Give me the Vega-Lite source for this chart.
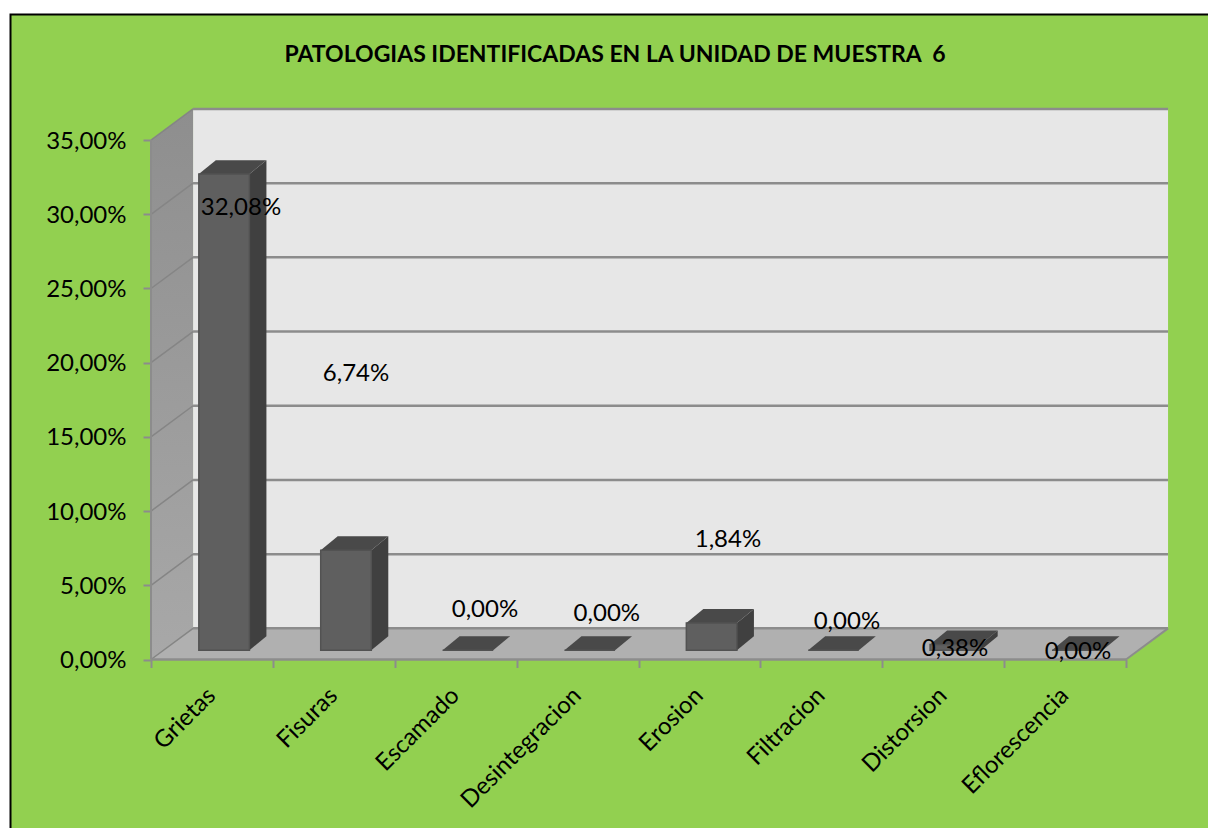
{
"$schema":"https://vega.github.io/schema/vega-lite/v6.json",
"width":1208,"height":828,"padding":0,"autosize":{"type":"none"},"background":"white",
"config":{"view":{"stroke":null},"font":"Lato"},
"title":{"text":"PATOLOGIAS IDENTIFICADAS EN LA UNIDAD DE MUESTRA \u00a06","anchor":"middle","frame":"group","dx":11,"offset":0,"dy":67,"font":"Lato","fontSize":23,"fontWeight":"bold","color":"#000000"},
"datasets":{
"bars":[
{"orden":1,"categoria":"Grietas","valor":32.08,"etiqueta":"32,08%"},
{"orden":2,"categoria":"Fisuras","valor":6.74,"etiqueta":"6,74%"},
{"orden":3,"categoria":"Escamado","valor":0,"etiqueta":"0,00%"},
{"orden":4,"categoria":"Desintegracion","valor":0,"etiqueta":"0,00%"},
{"orden":5,"categoria":"Erosion","valor":1.84,"etiqueta":"1,84%"},
{"orden":6,"categoria":"Filtracion","valor":0,"etiqueta":"0,00%"},
{"orden":7,"categoria":"Distorsion","valor":0.38,"etiqueta":"0,38%"},
{"orden":8,"categoria":"Eflorescencia","valor":0,"etiqueta":"0,00%"}
],
"marcas":[{"v":0},{"v":5},{"v":10},{"v":15},{"v":20},{"v":25},{"v":30},{"v":35}],
"uno":[{"u":1}]
},
"encoding":{
"x":{"field":"x","type":"quantitative","scale":{"domain":[-1.239,8.6728],"nice":false,"zero":false},
"axis":{"values":[0,1,2,3,4,5,6,7,8],"title":null,"labels":false,"domain":false,"grid":false,"offset":-168.5,"tickColor":"#8C8C8C","tickWidth":2,"tickSize":8,"zindex":1}},
"y":{"field":"y","type":"quantitative","scale":{"domain":[-11.354,44.44],"nice":false,"zero":false},
"axis":{"values":[0,5,10,15,20,25,30,35],"title":null,"labelExpr":"replace(format(datum.value,'.2f'),'.',',')+'%'","domain":false,"grid":false,"offset":-151,"tickColor":"#8C8C8C","tickWidth":2,"tickSize":8,"labelFont":"Lato","labelFontSize":24,"labelColor":"#000000","labelPadding":17,"labelOffset":1,"zindex":1}}
},
"layer":[
{"data":{"name":"uno"},"transform":[{"calculate":"-1.1528","as":"x"},{"calculate":"8.8","as":"x2"},{"calculate":"43.46","as":"y"},{"calculate":"-11.5","as":"y2"}],
"mark":{"type":"rect","fill":"#92D050","stroke":"#000000","strokeWidth":2},
"encoding":{"x2":{"field":"x2"},"y2":{"field":"y2"}}},
{"data":{"name":"uno"},"transform":[{"calculate":"0.345","as":"x"},{"calculate":"8.345","as":"x2"},{"calculate":"2.1","as":"y"},{"calculate":"37.1","as":"y2"}],
"mark":{"type":"rect","fill":"#E7E7E7"},
"encoding":{"x2":{"field":"x2"},"y2":{"field":"y2"}}},
{"data":{"name":"uno"},"transform":[{"calculate":"0","as":"t0"},{"calculate":"1","as":"t1"},{"fold":["t0","t1"],"as":["k","t"]},{"calculate":"datum.t*0.345","as":"x"},{"calculate":"datum.t*2.1","as":"y"},{"calculate":"35+datum.t*2.1","as":"y2"}],
"mark":{"type":"area","fill":{"x1":0,"y1":1,"x2":0,"y2":0,"gradient":"linear","stops":[{"offset":0,"color":"#A8A8A8"},{"offset":1,"color":"#8E8E8E"}]}},
"encoding":{"y2":{"field":"y2"}}},
{"data":{"name":"uno"},"transform":[{"calculate":"0","as":"t0"},{"calculate":"1","as":"t1"},{"fold":["t0","t1"],"as":["k","t"]},{"calculate":"datum.t*0.345","as":"x"},{"calculate":"8+datum.t*0.345","as":"x2"},{"calculate":"datum.t*2.1","as":"y"}],
"mark":{"type":"area","orient":"horizontal","fill":"#B0B0B0"},
"encoding":{"x2":{"field":"x2"}}},
{"data":{"name":"marcas"},"transform":[{"calculate":"0.345","as":"x"},{"calculate":"8.345","as":"x2"},{"calculate":"datum.v+2.1","as":"y"}],
"mark":{"type":"rule","stroke":"#8C8C8C","strokeWidth":2.5},
"encoding":{"x2":{"field":"x2"}}},
{"data":{"name":"marcas"},"transform":[{"calculate":"0","as":"t0"},{"calculate":"1","as":"t1"},{"fold":["t0","t1"],"as":["k","t"]},{"calculate":"datum.t*0.345","as":"x"},{"calculate":"datum.v+datum.t*2.1","as":"y"}],
"mark":{"type":"line","stroke":"#858585","strokeWidth":1.5},
"encoding":{"detail":{"field":"v"}}},
{"data":{"name":"uno"},"transform":[{"calculate":"0","as":"t0"},{"calculate":"1","as":"t1"},{"fold":["t0","t1"],"as":["k","t"]},{"calculate":"8+datum.t*0.345","as":"x"},{"calculate":"datum.t*2.1","as":"y"}],
"mark":{"type":"line","stroke":"#8C8C8C","strokeWidth":2},"encoding":{}},
{"data":{"name":"uno"},"transform":[{"calculate":"0","as":"x"},{"calculate":"8","as":"x2"},{"calculate":"0","as":"y"}],
"mark":{"type":"rule","stroke":"#8C8C8C","strokeWidth":2.5},
"encoding":{"x2":{"field":"x2"}}},
{"data":{"name":"uno"},"transform":[{"calculate":"0","as":"x"},{"calculate":"0","as":"y"},{"calculate":"35","as":"y2"}],
"mark":{"type":"rule","stroke":"#8C8C8C","strokeWidth":2},
"encoding":{"y2":{"field":"y2"}}},
{"data":{"name":"bars"},"transform":[{"calculate":"0","as":"t0"},{"calculate":"1","as":"t1"},{"fold":["t0","t1"],"as":["k","t"]},{"calculate":"datum.orden-0.4+0.2075+datum.t*0.1395","as":"x"},{"calculate":"0.627+datum.t*0.943","as":"y"},{"calculate":"0.627+datum.valor+datum.t*0.943","as":"y2"}],
"mark":{"type":"area","fill":"#404040"},
"encoding":{"y2":{"field":"y2"},"detail":{"field":"categoria"}}},
{"data":{"name":"bars"},"transform":[{"calculate":"0","as":"t0"},{"calculate":"1","as":"t1"},{"fold":["t0","t1"],"as":["k","t"]},{"calculate":"datum.orden-0.4-0.2075+datum.t*0.1395","as":"x"},{"calculate":"datum.orden-0.4+0.2075+datum.t*0.1395","as":"x2"},{"calculate":"0.627+datum.valor+datum.t*0.943","as":"y"}],
"mark":{"type":"area","orient":"horizontal","fill":"#494949"},
"encoding":{"x2":{"field":"x2"},"detail":{"field":"categoria"}}},
{"data":{"name":"bars"},"transform":[{"calculate":"datum.orden-0.4-0.2075","as":"x"},{"calculate":"datum.orden-0.4+0.2075","as":"x2"},{"calculate":"0.627","as":"y"},{"calculate":"0.627+datum.valor","as":"y2"}],
"mark":{"type":"rect","fill":"#5F5F5F","stroke":"#525252","strokeWidth":1.5},
"encoding":{"x2":{"field":"x2"},"y2":{"field":"y2"}}},
{"data":{"name":"bars"},"transform":[
{"calculate":"{'Grietas':0.738,'Fisuras':1.682,'Escamado':2.74,'Desintegracion':3.74,'Erosion':4.734,'Filtracion':5.71,'Distorsion':6.597,'Eflorescencia':7.606}[datum.categoria]","as":"x"},
{"calculate":"{'Grietas':30.45,'Fisuras':19.25,'Escamado':3.35,'Desintegracion':3.08,'Erosion':8.07,'Filtracion':2.55,'Distorsion':0.72,'Eflorescencia':0.52}[datum.categoria]","as":"y"}],
"mark":{"type":"text","font":"Lato","fontSize":24,"color":"#000000","align":"center","baseline":"middle"},
"encoding":{"text":{"field":"etiqueta"}}},
{"data":{"name":"bars"},"transform":[{"calculate":"datum.orden-0.5","as":"x"},{"calculate":"-2.2","as":"y"}],
"mark":{"type":"text","font":"Lato","fontSize":24,"color":"#000000","align":"right","baseline":"middle","angle":315},
"encoding":{"text":{"field":"categoria"}}}
]
}
